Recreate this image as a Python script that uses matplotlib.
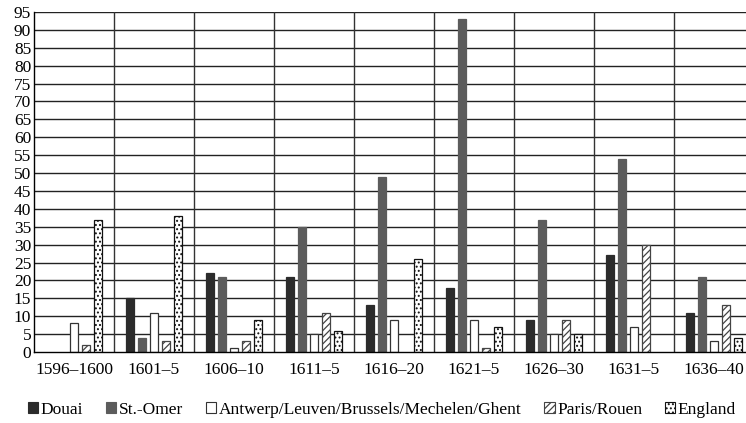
import numpy as np
import matplotlib
matplotlib.use("Agg")
from matplotlib import pyplot as plt
from matplotlib.patches import Patch

plt.rcParams['font.family'] = ['Liberation Serif', 'DejaVu Serif']
plt.rcParams['hatch.linewidth'] = 0.9

# data
periods = ["1596\u20131600", "1601\u20135", "1606\u201310", "1611\u20135", "1616\u201320",
           "1621\u20135", "1626\u201330", "1631\u20135", "1636\u201340"]
douai = [0, 15, 22, 21, 13, 18, 9, 27, 11]
st_omer = [0, 4, 21, 35, 49, 93, 37, 54, 21]
antwerp = [8, 11, 1, 5, 9, 9, 5, 7, 3]
paris = [2, 3, 3, 11, 0, 1, 9, 30, 13]
england = [37, 38, 9, 6, 26, 7, 5, 0, 4]

series_names = ["Douai", "St.-Omer", "Antwerp/Leuven/Brussels/Mechelen/Ghent",
                "Paris/Rouen", "England"]
series_vals = [douai, st_omer, antwerp, paris, england]
styles = [
    dict(color="#2b2b2b", edgecolor="#2b2b2b", hatch=None),
    dict(color="#5c5c5c", edgecolor="#5c5c5c", hatch=None),
    dict(color="white", edgecolor="#333333", hatch=None),
    dict(color="white", edgecolor="#444444", hatch="/////"),
    dict(color="white", edgecolor="#111111", hatch="...."),
]

fig = plt.figure(figsize=(7.46, 4.23), dpi=100)
ax = fig.add_axes([34 / 746, 1 - 352 / 423, 720 / 746, 340 / 423])

x = np.arange(len(periods))
w = 0.11
pitch = 0.15
for i, (vals, st) in enumerate(zip(series_vals, styles)):
    vals = np.array(vals, dtype=float)
    mask = vals > 0
    ax.bar(x[mask] + (i - 2) * pitch, vals[mask], width=w, color=st["color"],
           edgecolor=st["edgecolor"], hatch=st["hatch"], linewidth=0.9, zorder=3)

ax.set_xlim(-0.5, len(periods) - 0.5)
ax.set_ylim(0, 95)
ax.set_yticks(range(0, 96, 5))
ax.set_xticks(x)
ax.set_xticklabels(periods)
ax.tick_params(axis="both", length=0, labelsize=12.5, pad=2)
ax.tick_params(axis="x", pad=7)

for yv in range(5, 96, 5):
    ax.axhline(yv, color="#222222", lw=1.0, zorder=1)
for xv in np.arange(0.5, len(periods) - 0.5, 1):
    ax.axvline(xv, color="#333333", lw=1.0, zorder=1)

for s in ["top", "right"]:
    ax.spines[s].set_visible(False)
ax.spines["left"].set_color("black")
ax.spines["bottom"].set_color("black")
ax.spines["left"].set_linewidth(1.0)
ax.spines["bottom"].set_linewidth(1.0)
ax.spines["bottom"].set_zorder(4)

handles = [Patch(facecolor=st["color"], edgecolor=st["edgecolor"], hatch=st["hatch"], linewidth=0.8)
           for st in styles]
fig.legend(handles, series_names, loc="center", bbox_to_anchor=(0.512, 1 - 410 / 423),
           ncol=5, frameon=False, fontsize=12.5, handlelength=0.6, handleheight=0.6,
           handletextpad=0.15, columnspacing=1.3, borderpad=0.1)

fig.savefig("out.png", dpi=100)
